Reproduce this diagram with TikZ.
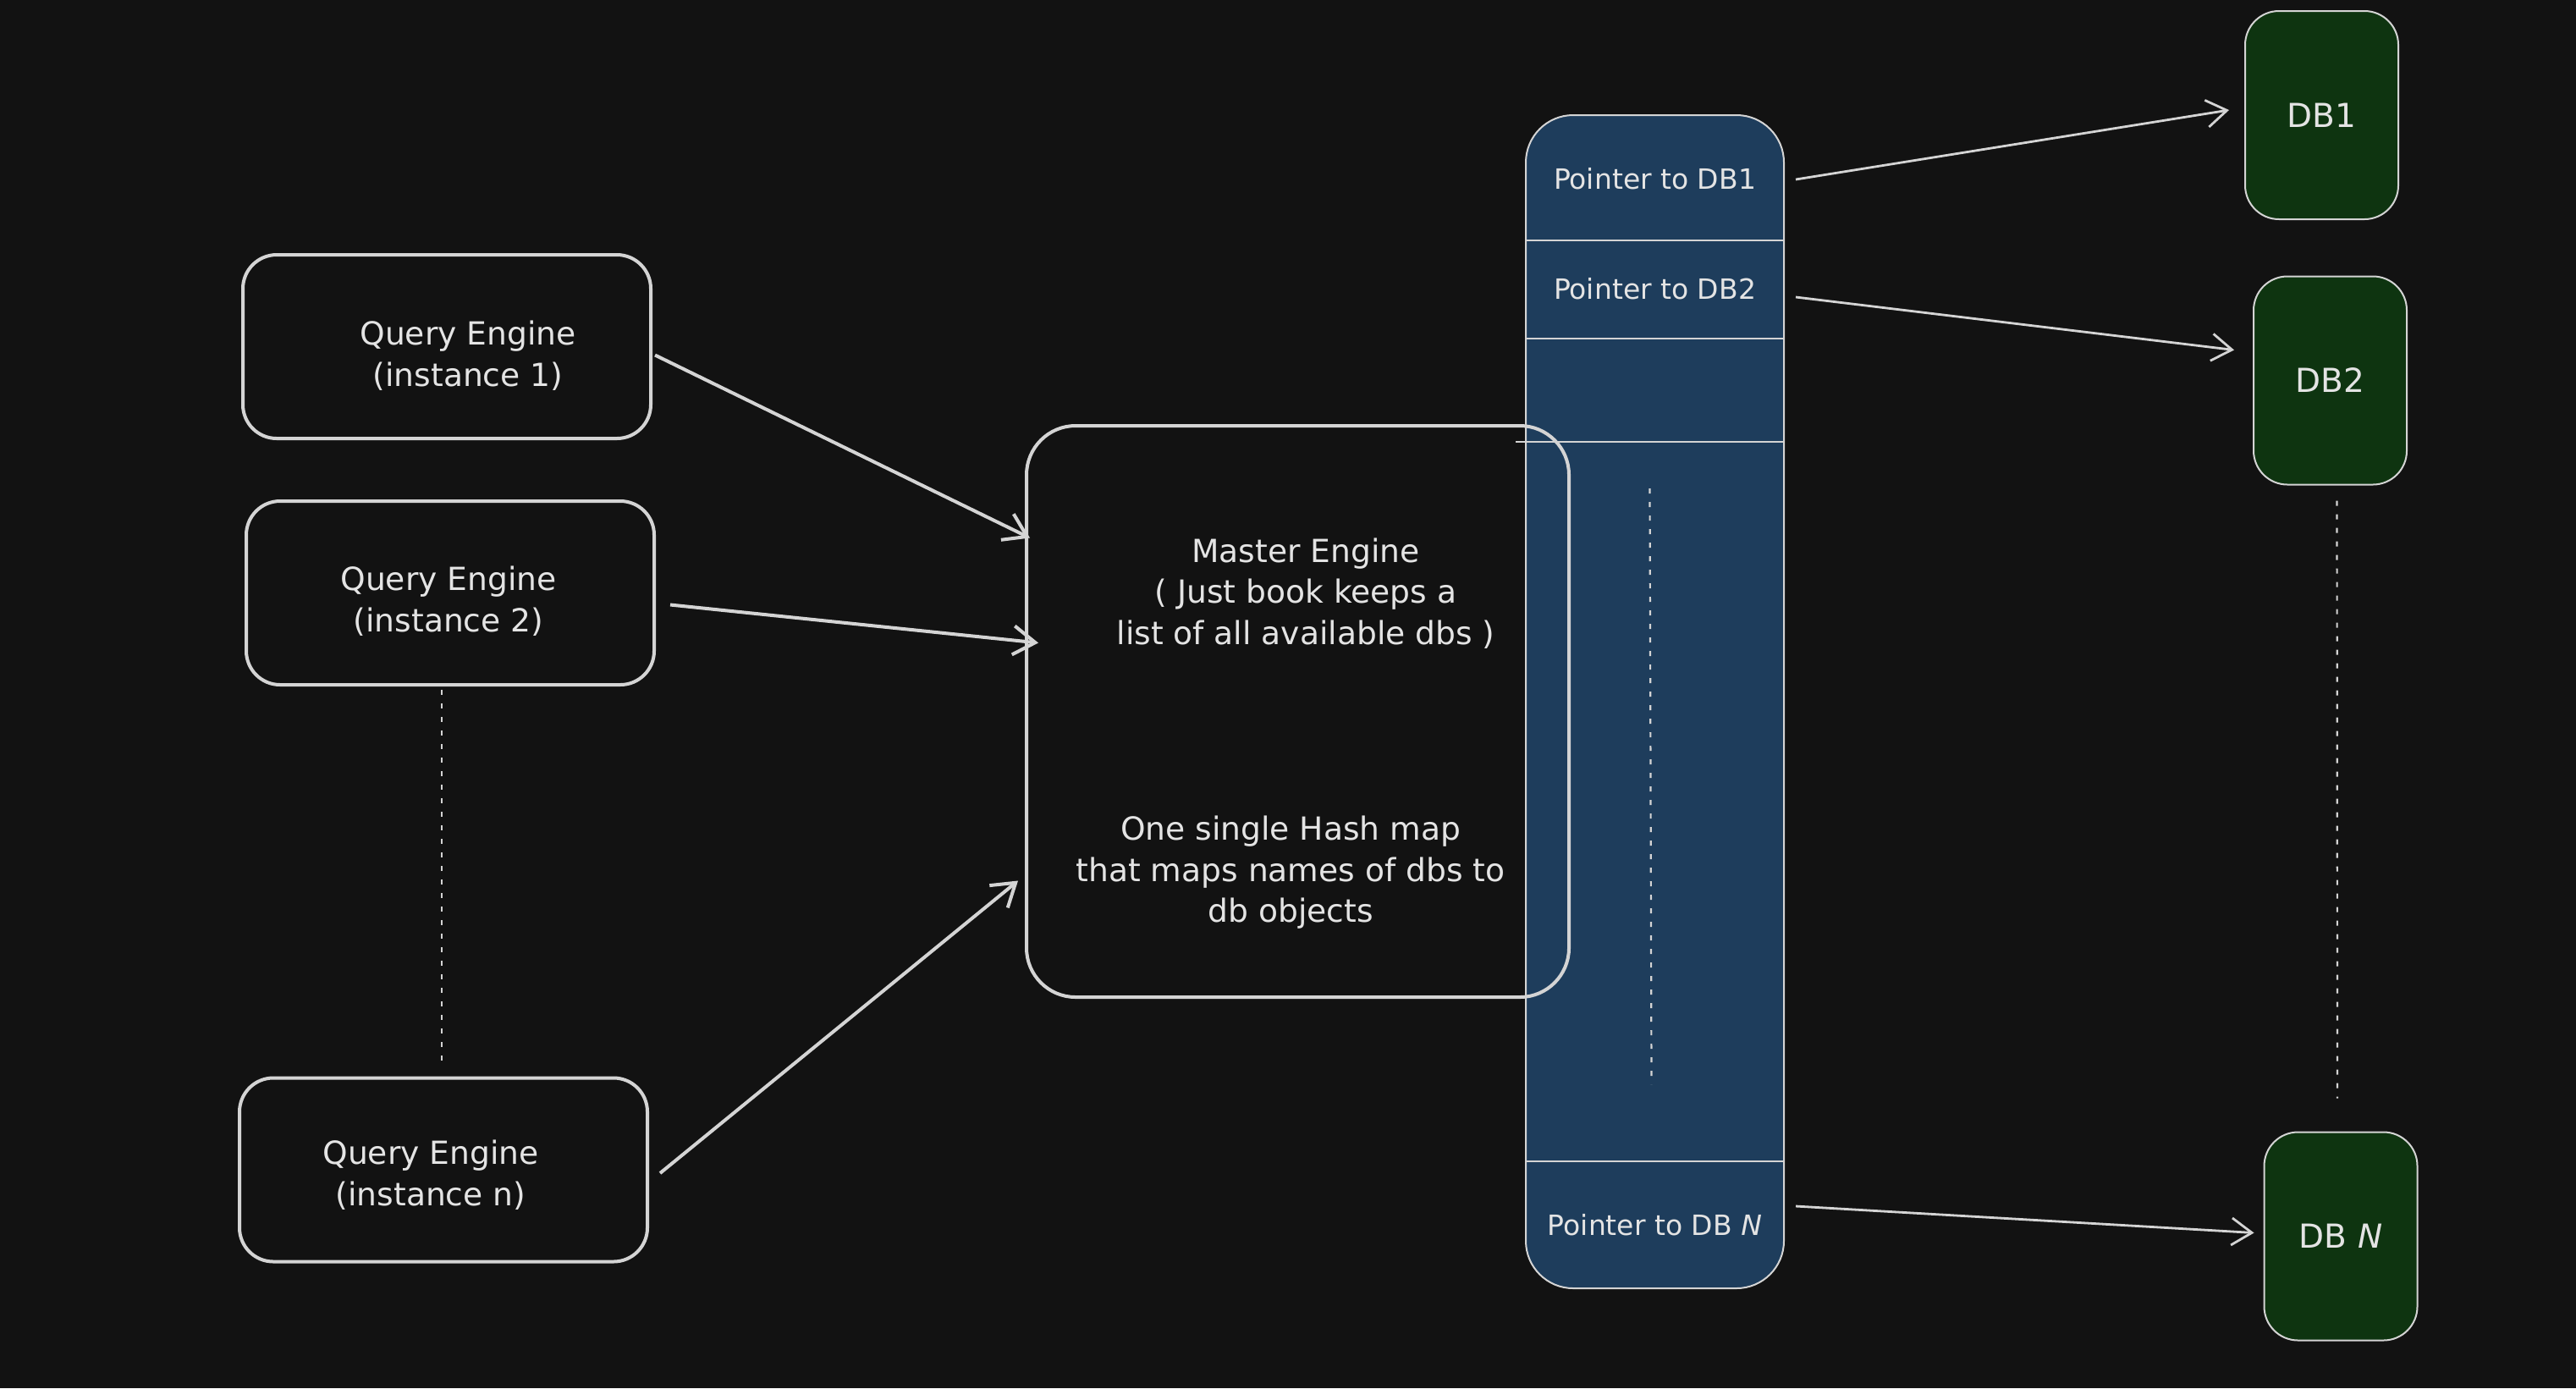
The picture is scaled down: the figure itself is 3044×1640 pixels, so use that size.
\documentclass[tikz,border=0pt]{standalone}
\usepackage{fontspec}
\setmainfont{DejaVu Sans}
\usetikzlibrary{arrows.meta,calc}
\definecolor{canvas}{HTML}{121212}
\definecolor{ink}{HTML}{D4D4D4}
\definecolor{txt}{HTML}{E4E4E4}
\definecolor{tablefill}{HTML}{1E3D5C}
\definecolor{dbfill}{HTML}{0E3410}

\begin{document}
\begin{tikzpicture}[x=0.5pt,y=-0.5pt,
  every node/.style={text=txt, align=center, inner sep=0pt, outer sep=0pt},
  bodytext/.style={font=\fontsize{18.8}{24.25}\selectfont},
  enginebox/.style={draw=ink, line width=2pt, rounded corners=20pt,
    minimum width=241pt, minimum height=108.5pt},
  masterbox/.style={draw=ink, line width=2pt, rounded corners=29pt,
    minimum width=320.5pt, minimum height=337.5pt},
  tablebox/.style={draw=ink, line width=1pt, fill=tablefill, rounded corners=28pt,
    minimum width=152.5pt, minimum height=693pt},
  cellbox/.style={minimum width=152.5pt, font=\fontsize{16.5}{20}\selectfont},
  divider/.style={draw=ink, line width=1.2pt},
  dbbox/.style={draw=ink, line width=1pt, fill=dbfill, rounded corners=20pt,
    minimum width=90.5pt, minimum height=123pt, font=\fontsize{19.5}{24}\selectfont},
  dotline/.style={draw=ink, line width=1.1pt, dash pattern=on 3pt off 5pt},
  bigarrow/.style={draw=ink, line width=2pt,
    -{Straight Barb[length=13pt,width=17pt,line width=2pt]}},
  ptrarrow/.style={draw=ink, line width=1.4pt,
    -{Straight Barb[length=12pt,width=16pt,line width=1.4pt]}},
]
% canvas
\fill[canvas] (0,0) rectangle (3044,1640);

% query engines
\node[enginebox] (qe1) at (528,409.5) {};
\node[enginebox] (qe2) at (532,700.5) {};
\node[enginebox] (qen) at (524,1382) {};
\node[bodytext] (qe1txt) at (553,420) {Query Engine\\(instance 1)};
\node[bodytext] (qe2txt) at (530,710) {Query Engine\\(instance 2)};
\node[bodytext] (qentxt) at (509,1388) {Query Engine\\(instance n)};
\draw[dotline] ($(qe2.south)+(-10,6)$) -- ($(qen.north)+(-2,-21)$);

% pointer table
\node[tablebox] (table) at (1955.5,829) {};
\node[cellbox, minimum height=73pt] (cell1) at (1955.5,211) {Pointer to DB1};
\node[cellbox, minimum height=59pt] (cell2) at (1955.5,341) {Pointer to DB2};
\node[cellbox, minimum height=61pt] (cell3) at (1955.5,461) {};
\node[cellbox, minimum height=75pt] (celln) at (1955.5,1447) {Pointer to DB \textit{N}};
\draw[divider] (cell1.south west) -- (cell1.south east);
\draw[divider] (cell2.south west) -- (cell2.south east);
\draw[divider] ($(cell3.south west)+(-12,0)$) -- (cell3.south east);
\draw[divider] (celln.north west) -- (celln.north east);
\draw[dotline] ($(table.north)+(-6,441)$) -- ($(table.north)+(-4,1145)$);

% master engine
\node[masterbox] (master) at (1533.5,840.5) {};
\node[bodytext] (mtitle) at (1543,701) {Master Engine\\( Just book keeps a\\list of all available dbs )};
\node[bodytext] (mhash) at (1525,1031) {One single Hash map\\that maps names of dbs to\\db objects};

% databases
\node[dbbox] (db1) at (2743.5,136) {DB1};
\node[dbbox] (db2) at (2753.5,449.5) {DB2};
\node[dbbox] (dbn) at (2766,1460.5) {DB \textit{N}};
\draw[dotline] ($(db2.south)+(8,19)$) -- ($(dbn.north)+(-4,-40)$);

% engines to master
\draw[bigarrow] ($(qe1.east)+(5,10)$) -- ($(master.west)+(4,-205)$);
\draw[bigarrow] ($(qe2.east)+(19,14)$) -- ($(master.west)+(14,-81)$);
\draw[bigarrow] ($(qen.east)+(15,4)$) -- ($(master.west)+(-10,200)$);

% pointers to databases
\draw[ptrarrow] ($(cell1.east)+(14,1)$) -- ($(db1.west)+(-19,-6)$);
\draw[ptrarrow] ($(cell2.east)+(14,10)$) -- ($(db2.west)+(-23,-36)$);
\draw[ptrarrow] ($(celln.east)+(14,-22)$) -- ($(dbn.west)+(-12,-4)$);
\end{tikzpicture}
\end{document}
